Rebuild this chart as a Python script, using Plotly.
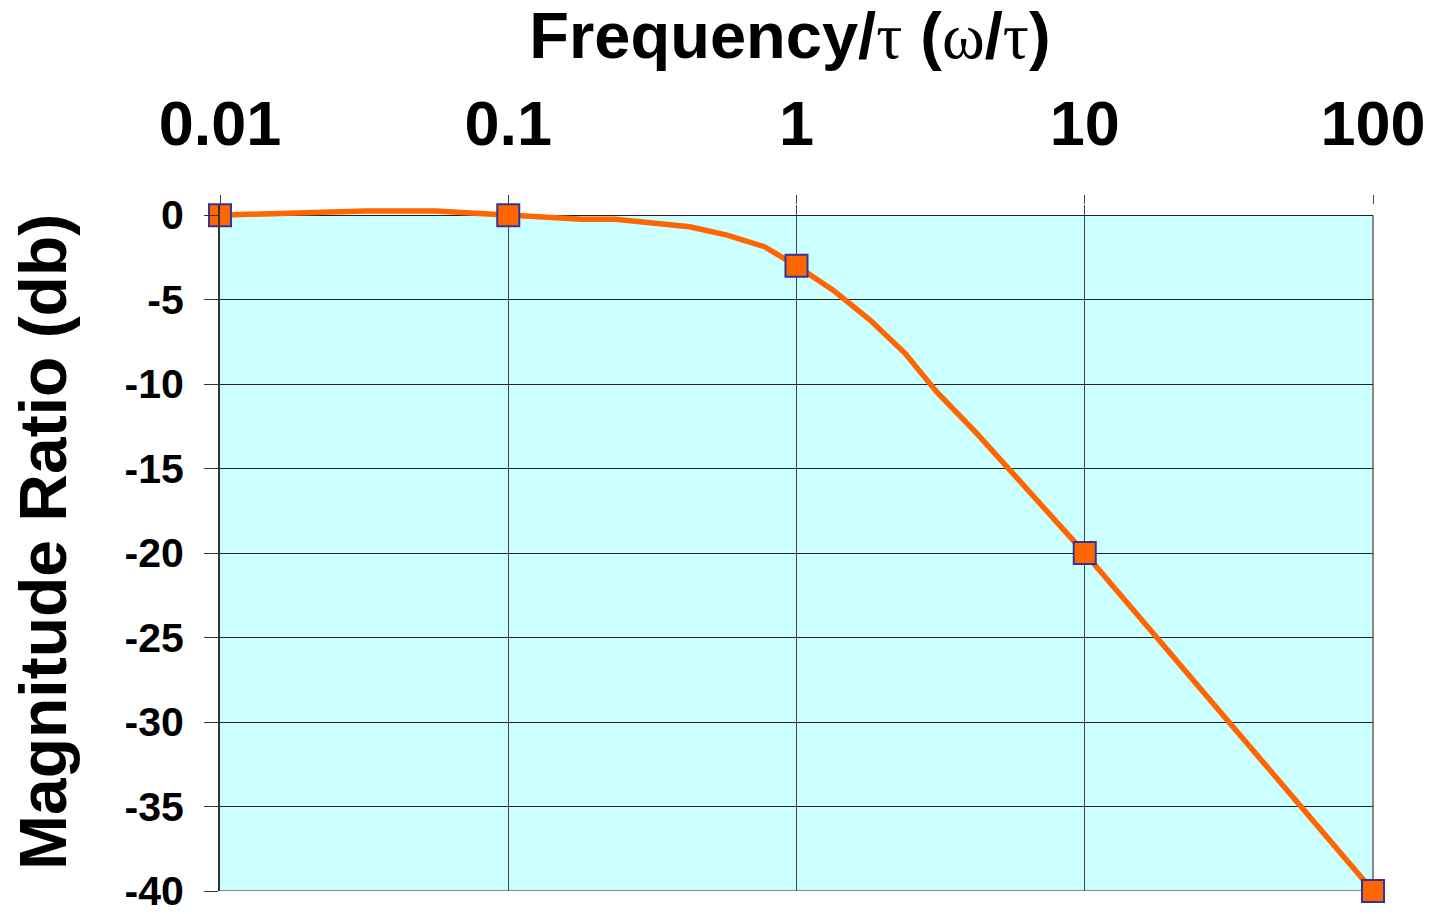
import plotly.graph_objects as go

# Curve vertices (frequency/tau, magnitude ratio dB)
curve_freq = [0.01, 0.032, 0.056, 0.1, 0.18, 0.235, 0.426, 0.574, 0.774, 1.0,
              1.34, 1.80, 2.38, 3.06, 4.22, 10.0, 100.0]
curve_db = [0.0, 0.25, 0.25, 0.0, -0.25, -0.25, -0.69, -1.18, -1.87, -3.0,
            -4.44, -6.21, -8.18, -10.45, -12.92, -20.0, -40.0]

# Marked points at each decade
marker_freq = [0.01, 0.1, 1, 10, 100]
marker_db = [0, 0, -3, -20, -40]

x_tick_vals = [0.01, 0.1, 1, 10, 100]
x_tick_text = ["0.01", "0.1", "1", "10", "100"]
y_tick_vals = [0, -5, -10, -15, -20, -25, -30, -35, -40]
y_tick_text = ["0", "-5", "-10", "-15", "-20", "-25", "-30", "-35", "-40"]

SANS = "Arial, Liberation Sans, sans-serif"
SERIF = "Liberation Serif, Times New Roman, serif"
ORANGE = "#FF6600"
NAVY = "#333399"
Y_TOP = 0.6  # small headroom so the line above 0 dB is not clipped

fig = go.Figure()
fig.add_trace(go.Scatter(
    x=curve_freq, y=curve_db, mode="lines",
    line=dict(color=ORANGE, width=5.5),
    cliponaxis=False, showlegend=False, hoverinfo="skip",
))
fig.add_trace(go.Scatter(
    x=marker_freq, y=marker_db, mode="markers",
    marker=dict(symbol="square", size=22, color=ORANGE,
                line=dict(color=NAVY, width=2)),
    cliponaxis=False, showlegend=False,
))

def serif(ch):
    return '<span style="font-family:%s;font-weight:normal">%s</span>' % (SERIF, ch)

title_text = ("<b>Frequency/</b>" + serif("τ") + "<b> (</b>" + serif("ω")
              + "<b>/</b>" + serif("τ") + "<b>)</b>")

fig.update_layout(
    width=1437, height=914,
    margin=dict(l=220, r=64, t=205, b=23, autoexpand=False),
    paper_bgcolor="white",
    plot_bgcolor="white",
    font=dict(family=SANS, color="black"),
    title=dict(text=title_text, font=dict(size=65, family=SANS, color="black"),
               x=(790 - 220) / 1153, xref="paper", xanchor="center",
               y=1 - 35 / 914, yanchor="middle"),
    xaxis=dict(
        type="log", range=[-2, 2], side="top", automargin=False,
        tickvals=x_tick_vals, ticktext=["<b>%s</b>" % t for t in x_tick_text],
        tickfont=dict(size=63, family=SANS, color="black"),
        ticks="outside", ticklen=9, tickwidth=1, tickcolor="#444444",
        ticklabelstandoff=25, ticklabeloverflow="allow",
        showgrid=True, gridcolor="#444444", gridwidth=1,
        showline=False, zeroline=False,
    ),
    yaxis=dict(
        range=[-40, Y_TOP], automargin=False,
        tickvals=y_tick_vals, ticktext=["<b>%s</b>" % t for t in y_tick_text],
        tickfont=dict(size=41, family=SANS, color="black"),
        ticks="outside", ticklen=14, tickwidth=1, tickcolor="#333333",
        ticklabelstandoff=12, ticklabeloverflow="allow",
        showgrid=True, gridcolor="#222222", gridwidth=1,
        showline=True, linecolor="#333333", linewidth=2,
        zeroline=False,
    ),
    annotations=[
        dict(text="<b>Magnitude Ratio (db)</b>", textangle=-90,
             font=dict(size=66, family=SANS, color="black"),
             xref="paper", yref="paper",
             x=(43 - 220) / 1153, y=(891 - 542) / (891 - 205),
             xanchor="center", yanchor="middle", showarrow=False),
    ],
    shapes=[
        dict(type="rect", xref="paper", yref="y", x0=0, x1=1, y0=-40, y1=0,
             fillcolor="#CCFFFF", line=dict(width=0), layer="below"),
        dict(type="line", xref="paper", yref="y", x0=1, x1=1, y0=-40, y1=0,
             line=dict(color="#888888", width=2), layer="below"),
        dict(type="line", xref="paper", yref="y", x0=0, x1=1, y0=-40, y1=-40,
             line=dict(color="#888888", width=2), layer="below"),
    ],
)

fig.write_html("out.html", config={"displayModeBar": False},
               post_script="document.body.style.margin='0px';")
